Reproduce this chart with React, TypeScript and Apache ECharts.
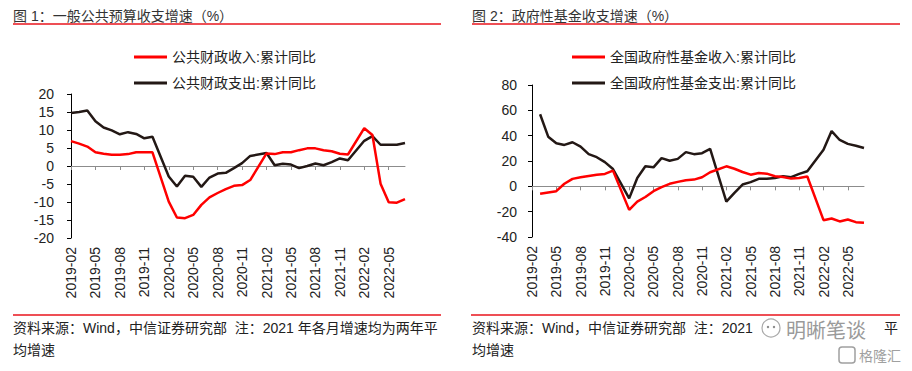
import React, { useEffect, useRef } from "react";
import * as echarts from "echarts";

const months = [
  "2019-02", "2019-03", "2019-04", "2019-05", "2019-06", "2019-07", "2019-08", "2019-09", "2019-10", "2019-11", "2019-12",
  "2020-01", "2020-02", "2020-03", "2020-04", "2020-05", "2020-06", "2020-07", "2020-08", "2020-09", "2020-10", "2020-11", "2020-12",
  "2021-01", "2021-02", "2021-03", "2021-04", "2021-05", "2021-06", "2021-07", "2021-08", "2021-09", "2021-10", "2021-11", "2021-12",
  "2022-01", "2022-02", "2022-03", "2022-04", "2022-05", "2022-06", "2022-07",
];

// 图1：一般公共预算收支增速（%）
const publicRevenue = [
  6.9, 6.2, 5.4, 3.8, 3.4, 3.1, 3.1, 3.3, 3.8, 3.8, 3.8,
  null, -9.9, -14.3, -14.5, -13.6, -10.8, -8.7, -7.5, -6.4, -5.5, -5.3, -3.9,
  null, 3.5, 3.3, 3.8, 3.8, 4.4, 4.9, 4.9, 4.4, 4.1, 3.4, 3.2,
  null, 10.5, 8.6, -4.9, -10.1, -10.2, -9.2,
];
const publicExpenditure = [
  14.7, 15.0, 15.4, 12.4, 10.7, 9.9, 8.8, 9.4, 8.9, 7.7, 8.1,
  null, -2.9, -5.7, -2.7, -3.0, -5.8, -3.2, -2.1, -1.9, -0.6, 0.8, 2.8,
  null, 3.6, 0.2, 0.6, 0.4, -0.6, 0.0, 0.7, 0.2, 1.1, 2.1, 1.6,
  null, 7.0, 8.3, 5.9, 5.9, 5.9, 6.4,
];

// 图2：政府性基金收支增速（%）
const fundRevenue = [
  null, -5.9, -4.8, -3.8, 2.0, 5.9, 7.2, 8.2, 9.2, 9.8, 12.4,
  null, -18.6, -12.1, -8.4, -3.8, -0.6, 2.0, 3.5, 4.8, 5.3, 7.2, 11.1,
  null, 15.8, 13.9, 11.3, 9.2, 10.5, 10.0, 8.0, 7.4, 6.1, 6.6, 7.8,
  null, -26.7, -25.4, -27.7, -26.2, -28.3, -28.8,
];
const fundExpenditure = [
  null, 56.9, 39.2, 34.0, 32.7, 34.8, 31.4, 25.4, 23.0, 19.1, 13.7,
  null, -9.5, 6.6, 15.8, 15.0, 22.3, 20.2, 21.7, 27.0, 25.4, 26.2, 29.5,
  null, -12.1, -5.1, 1.4, 3.3, 5.9, 5.9, 6.6, 8.0, 7.2, 9.8, 11.9,
  null, 28.8, 43.6, 36.6, 33.5, 32.1, 30.3,
];

const seriesNames1 = ["公共财政收入:累计同比", "公共财政支出:累计同比"];
const seriesNames2 = ["全国政府性基金收入:累计同比", "全国政府性基金支出:累计同比"];
const titles = ["图 1：一般公共预算收支增速（%）", "图 2：政府性基金收支增速（%）"];
const footLine1 = "资料来源：Wind，中信证券研究部  注：2021 年各月增速均为两年平";
const footLine1Visible = "资料来源：Wind，中信证券研究部  注：2021";
const footLine1Tail = "平";
const footLine2 = "均增速";
const watermark = "明晰笔谈";
const logoText = "格隆汇";

const FONT = "Arial, 'Liberation Sans', 'Noto Sans CJK SC', sans-serif";
const RED = "#ff0000";
const BLACK = "#231815";
const TEXT = "#222222";
const RULE = "#e8141c";

export default function App() {
  const ref = useRef<HTMLDivElement>(null);

  useEffect(() => {
    if (!ref.current) return;
    const chart = echarts.init(ref.current, undefined, { renderer: "svg" });

    const zeroAxis = (gridIndex: number) => ({
      type: "category",
      gridIndex,
      data: months,
      boundaryGap: false,
      position: "bottom",
      axisLine: { show: true, onZero: true, lineStyle: { color: "#8c8c8c", width: 1 } },
      axisTick: { show: true, interval: 2, length: 4, lineStyle: { color: "#8c8c8c" } },
      axisLabel: { show: false },
      splitLine: { show: false },
    });
    const labelAxis = (gridIndex: number) => ({
      type: "category",
      gridIndex,
      data: months,
      boundaryGap: false,
      position: "bottom",
      axisLine: { show: false, onZero: false },
      axisTick: { show: false },
      axisLabel: {
        show: true,
        interval: 2,
        rotate: 90,
        margin: 9,
        fontSize: 14,
        color: TEXT,
        fontFamily: FONT,
      },
      splitLine: { show: false },
    });
    const valueAxis = (gridIndex: number, min: number, max: number, interval: number, margin: number) => ({
      type: "value",
      gridIndex,
      min,
      max,
      interval,
      axisLine: { show: true, lineStyle: { color: "#000000", width: 1 } },
      axisTick: { show: true, length: 4, lineStyle: { color: "#000000" } },
      axisLabel: { fontSize: 14, color: TEXT, margin, fontFamily: FONT },
      splitLine: { show: false },
    });
    const line = (name: string, data: (number | null)[], color: string, idx: number) => ({
      name,
      type: "line",
      data,
      xAxisIndex: idx * 2,
      yAxisIndex: idx,
      symbol: "none",
      connectNulls: true,
      lineStyle: { color, width: 2.5 },
      itemStyle: { color },
      z: color === RED ? 3 : 2,
    });
    const legend = (left: number, names: string[]) => ({
      left,
      top: 50,
      orient: "vertical",
      padding: 0,
      itemGap: 12,
      itemWidth: 33,
      itemHeight: 3,
      icon: "rect",
      selectedMode: false,
      data: names,
      textStyle: { fontSize: 14, color: TEXT, fontFamily: FONT, lineHeight: 14 },
    });

    const text = (x: number, y: number, t: string, extra: any = {}) => ({
      type: "text",
      x,
      y,
      style: {
        text: t,
        fontSize: 14,
        fontFamily: FONT,
        fill: TEXT,
        verticalAlign: "middle",
        ...extra,
      },
    });
    const rule = (x1: number, x2: number, y: number) => ({
      type: "line",
      shape: { x1, y1: y, x2, y2: y },
      style: { stroke: RULE, lineWidth: 1.6 },
    });

    chart.setOption({
      animation: false,
      textStyle: { fontFamily: FONT },
      grid: [
        { left: 71, top: 94, width: 334, height: 144, containLabel: false },
        { left: 532, top: 85, width: 332, height: 152, containLabel: false },
      ],
      xAxis: [zeroAxis(0), labelAxis(0), zeroAxis(1), labelAxis(1)],
      yAxis: [valueAxis(0, -20, 20, 5, 17), valueAxis(1, -40, 80, 20, 15)],
      legend: [legend(134, seriesNames1), legend(572, seriesNames2)],
      series: [
        line(seriesNames1[0], publicRevenue, RED, 0),
        line(seriesNames1[1], publicExpenditure, BLACK, 0),
        line(seriesNames2[0], fundRevenue, RED, 1),
        line(seriesNames2[1], fundExpenditure, BLACK, 1),
      ],
      graphic: [
        text(13, 16, titles[0], { fill: "#333333" }),
        text(472, 16, titles[1], { fill: "#333333" }),
        rule(13, 441, 24),
        rule(472, 900, 24),
        rule(13, 441, 315),
        rule(471, 900, 315),
        text(13, 328, footLine1),
        text(13, 350, footLine2),
        text(472, 328, footLine1Visible),
        text(898, 328, footLine1Tail, { align: "right" }),
        text(472, 350, footLine2),
        {
          type: "circle",
          shape: { cx: 771, cy: 328, r: 9 },
          style: { fill: "#ffffff", stroke: "#a8a8a8", lineWidth: 1.2 },
        },
        {
          type: "circle",
          shape: { cx: 768, cy: 327, r: 1.2 },
          style: { fill: "#888888" },
        },
        {
          type: "circle",
          shape: { cx: 774, cy: 327, r: 1.2 },
          style: { fill: "#888888" },
        },
        text(786, 331, watermark, {
          fontSize: 20,
          fill: "#9a9a9a",
          stroke: "#ffffff",
          lineWidth: 1,
        }),
        {
          type: "rect",
          shape: { x: 839, y: 347, width: 16, height: 16, r: 3 },
          style: { fill: "none", stroke: "#a0a0a0", lineWidth: 1.5 },
        },
        text(859, 356, logoText, {
          fontSize: 14,
          fill: "#a0a0a0",
        }),
      ],
    });

    return () => chart.dispose();
  }, []);

  return (
    <div
      ref={ref}
      style={{ position: "absolute", left: 0, top: 0, width: 912, height: 371, background: "#ffffff" }}
    />
  );
}
